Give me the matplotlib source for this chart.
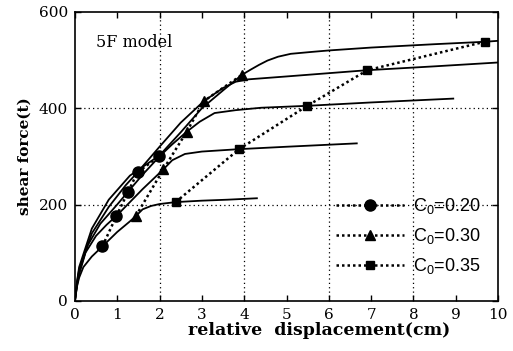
import matplotlib
matplotlib.use("Agg")
from matplotlib import pyplot as plt

plt.rcParams['font.family'] = ['DejaVu Serif']
plt.rcParams['mathtext.fontset'] = 'custom'
plt.rcParams['mathtext.rm'] = 'Liberation Sans'
plt.rcParams['mathtext.it'] = 'Liberation Sans'

# solid pushover curves (one per story level)
c1_x = [0, 0.05, 0.1, 0.2, 0.4, 0.65, 1.0, 1.3, 1.44, 1.6, 1.8, 2.0, 2.38, 3.0, 3.6, 4.3]
c1_y = [0, 30, 48, 70, 92, 113, 143, 165, 176, 190, 197, 201, 205, 208, 210, 213]
c2_x = [0, 0.05, 0.1, 0.25, 0.5, 0.75, 1.0, 1.3, 1.6, 2.09, 2.3, 2.6, 3.0, 3.88, 5.0, 6.66]
c2_y = [0, 32, 55, 100, 135, 158, 178, 205, 232, 273, 292, 305, 310, 315, 320, 327]
c3_x = [0, 0.05, 0.1, 0.3, 0.6, 1.0, 1.26, 1.6, 2.0, 2.3, 2.64, 2.95, 3.3, 3.8, 4.4, 5.49, 7.0, 8.94]
c3_y = [0, 35, 60, 115, 160, 200, 227, 262, 300, 325, 351, 372, 390, 396, 401, 405, 412, 420]
c4_x = [0, 0.05, 0.1, 0.4, 0.8, 1.2, 1.48, 2.0, 2.5, 3.05, 3.5, 3.8, 4.1, 5.0, 6.91, 8.5, 10.0]
c4_y = [0, 38, 65, 140, 195, 240, 267, 320, 370, 415, 442, 455, 460, 466, 479, 487, 495]
c5_x = [0, 0.05, 0.1, 0.4, 0.8, 1.3, 2.0, 2.5, 3.0, 3.5, 3.94, 4.15, 4.35, 4.55, 4.8, 5.1, 5.6, 6.0, 7.0, 8.5, 9.68, 10.0]
c5_y = [0, 40, 70, 150, 210, 260, 302, 350, 400, 437, 469, 480, 490, 499, 507, 513, 517, 520, 526, 533, 538, 540]

# dotted lines linking the marked points for each C0
c020_x = [0.65, 0.98, 1.26, 1.48, 1.99]
c020_y = [113, 176, 227, 267, 300]
c030_x = [1.44, 2.09, 2.64, 3.05, 3.94]
c030_y = [176, 273, 351, 415, 469]
c035_x = [2.38, 3.88, 5.49, 6.91, 9.68]
c035_y = [205, 315, 405, 479, 538]

fig = plt.figure(figsize=(5.13, 3.51), dpi=100)
ax = fig.add_axes([0.146, 0.143, 0.825, 0.823])

for gx in [2, 4, 6, 8]:
    ax.axvline(gx, color='black', linestyle=(0, (1, 2.5)), lw=0.9, zorder=0)
for gy in [200, 400]:
    ax.axhline(gy, color='black', linestyle=(0, (1, 2.5)), lw=0.9, zorder=0)

for cx, cy in [(c1_x, c1_y), (c2_x, c2_y), (c3_x, c3_y), (c4_x, c4_y), (c5_x, c5_y)]:
    ax.plot(cx, cy, color='black', lw=1.3)

dot = (0, (1, 1.2))
ax.plot(c020_x, c020_y, color='black', linestyle=dot, lw=1.8, marker='o', ms=8,
        label=r'C$_0$=0.20')
ax.plot(c030_x, c030_y, color='black', linestyle=dot, lw=1.8, marker='^', ms=7.5,
        label=r'C$_0$=0.30')
ax.plot(c035_x, c035_y, color='black', linestyle=dot, lw=1.8, marker='s', ms=5.5,
        label=r'C$_0$=0.35')

ax.text(0.5, 536, '5F model', fontsize=11.5, va='center', ha='left')

ax.set_xlim(0, 10)
ax.set_ylim(0, 600)
ax.set_xticks(range(0, 11))
ax.set_yticks([0, 200, 400, 600])
ax.tick_params(direction='in', top=True, right=True, labelsize=11, length=4, width=1, pad=5)
for s in ax.spines.values():
    s.set_linewidth(1.2)

ax.set_xlabel('relative  displacement(cm)', fontsize=12.5, fontweight='bold', labelpad=0, x=0.577)
ax.set_ylabel('shear force(t)', fontsize=11, fontweight='bold', labelpad=5)

ax.legend(loc='lower right', bbox_to_anchor=(0.998, 0.03), frameon=False,
          prop={'family': 'Liberation Sans', 'size': 13},
          handlelength=3.8, labelspacing=0.55, handletextpad=0.5)

plt.savefig('out.png', dpi=100)
